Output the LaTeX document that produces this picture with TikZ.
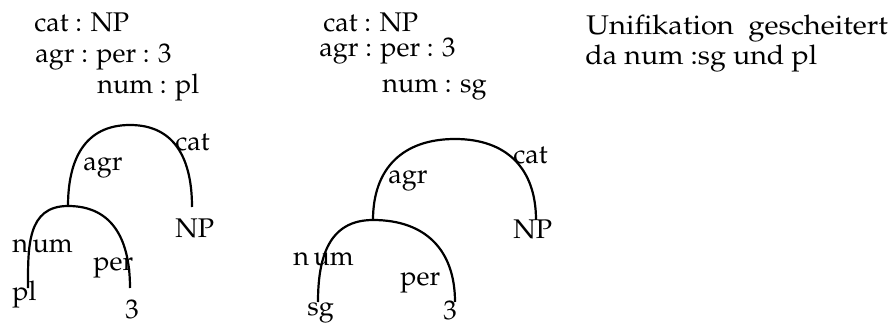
\documentclass[tikz,border=0pt]{standalone}
\usepackage[T1]{fontenc}
\usepackage{mathpazo}
\usepackage{tikz}
\usetikzlibrary{positioning}

\begin{document}
\begin{tikzpicture}[x=0.5pt, y=0.5pt,
    lbl/.style={inner sep=0pt, anchor=base west, font=\fontsize{13.5}{16}\selectfont},
    arc/.style={draw=black, line width=1.1pt, looseness=1.15}]
  \useasboundingbox (0,0) rectangle (888,-326);
  % feature structures as text
  \node[lbl] (l-cat)  at (34,-32)  {cat : NP};
  \node[lbl] (l-agr)  at (35,-63)  {agr : per : 3};
  \node[lbl] (l-num)  at (97,-94)  {num : pl};
  \node[lbl] (m-cat)  at (323,-32) {cat : NP};
  \node[lbl] (m-agr)  at (319,-57) {agr : per : 3};
  \node[lbl] (m-num)  at (382,-93) {num : sg};
  \node[lbl, xscale=1.08] (note1) at (586,-35) {Unifikation\ \ gescheitert};
  \node[lbl, xscale=1.06] (note2) at (585,-65) {da num :sg und pl};
  % left graph
  \coordinate (l-root) at (130,-125);
  \coordinate (l-mid)  at (68,-206);
  \coordinate (l-np)   at (192,-207);
  \coordinate (l-pl)   at (28,-288);
  \coordinate (l-3)    at (130,-288);
  \draw[arc] (l-mid) to[out=90,in=180] (l-root) to[out=0,in=90] (l-np);
  \draw[arc] (l-pl) to[out=90,in=180] (l-mid) to[out=0,in=90] (l-3);
  \node[lbl] (l-agr-e) at (83,-170)  {agr};
  \node[lbl] (l-cat-e) at (175,-150) {cat};
  \node[lbl] (l-np-v)  at (175,-237) {NP};
  \node[lbl] (l-num-e) at (12,-252)  {n\,um};
  \node[lbl] (l-per-e) at (93,-270)  {per};
  \node[lbl] (l-pl-v)  at (12,-300)  {pl};
  \node[lbl] (l-3-v)   at (125,-318) {3};
  % middle graph
  \coordinate (m-root) at (455,-139);
  \coordinate (m-mid)  at (373,-220);
  \coordinate (m-np)   at (536,-220);
  \coordinate (m-sg)   at (318,-302);
  \coordinate (m-3)    at (455,-302);
  \draw[arc] (m-mid) to[out=90,in=180] (m-root) to[out=0,in=90] (m-np);
  \draw[arc] (m-sg) to[out=90,in=180] (m-mid) to[out=0,in=90] (m-3);
  \node[lbl] (m-agr-e) at (388,-183) {agr};
  \node[lbl] (m-cat-e) at (513,-163) {cat};
  \node[lbl] (m-np-v)  at (513,-238) {NP};
  \node[lbl] (m-num-e) at (293,-265) {n\,um};
  \node[lbl] (m-per-e) at (400,-285) {per};
  \node[lbl] (m-sg-v)  at (307,-315) {sg};
  \node[lbl] (m-3-v)   at (443,-319) {3};
\end{tikzpicture}
\end{document}
